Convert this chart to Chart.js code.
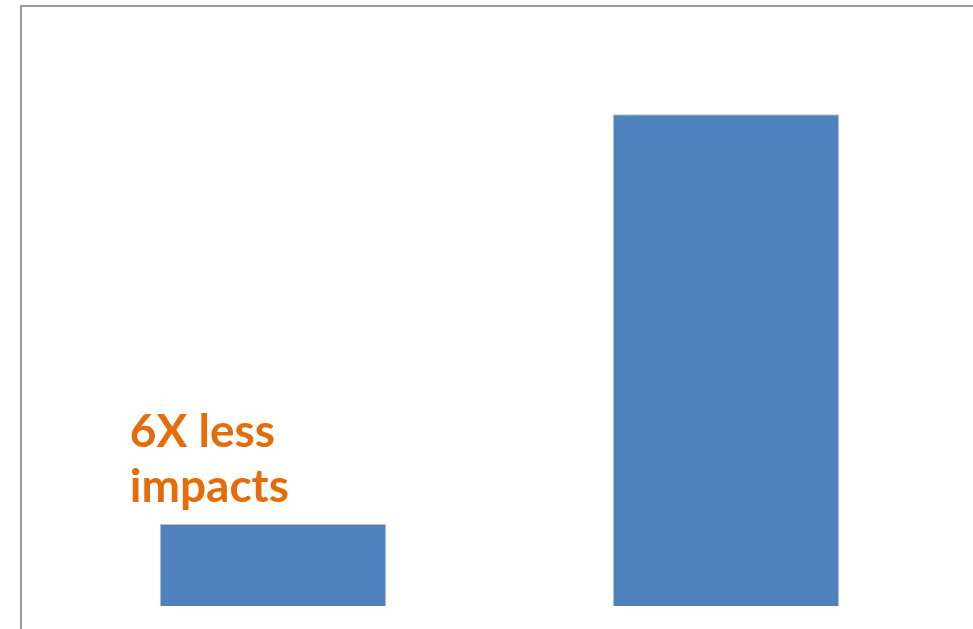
<html>
<head>
    <title>6X less impacts</title>
    <script src="https://cdn.jsdelivr.net/npm/chart.js@4/dist/chart.umd.min.js"></script>
    <style>
        body { margin: 0; background: #fff; }
    </style>
</head>
<body>
<canvas id="myChart" width="973" height="629"></canvas>

<script type="text/javascript">
var categories = ['A', 'B']
var impacts = [1, 6]
var noteLines = ['6X less', 'impacts']

// frame lines on left and top, plus the orange note above the small bar
var framePlugin = {
    id: 'frame',
    afterDatasetsDraw: function(chart) {
        var ctx = chart.ctx
        ctx.save()
        ctx.strokeStyle = '#9a9a9a'
        ctx.lineWidth = 2
        ctx.beginPath()
        ctx.moveTo(21, 629)
        ctx.lineTo(21, 6)
        ctx.lineTo(973, 6)
        ctx.stroke()

        var bar = chart.getDatasetMeta(0).data[0]
        ctx.fillStyle = '#E46C0A'
        ctx.font = 'bold 46px Lato'
        ctx.textBaseline = 'alphabetic'
        ctx.textAlign = 'left'
        var left = bar.x - bar.width / 2 - 30
        ctx.fillText(noteLines[0], left, bar.y - 77)
        ctx.fillText(noteLines[1], left, bar.y - 22)
        ctx.restore()
    }
}

var ctx = document.getElementById("myChart")
var chart = new Chart(ctx, {
    type: 'bar',
    data: {
        labels: categories,
        datasets: [{
            data: impacts,
            backgroundColor: '#4F81BD',
            borderColor: 'rgba(120,120,120,0.45)',
            borderWidth: 1,
            barPercentage: 0.5,
            categoryPercentage: 1.0
        }]
    },
    options: {
        responsive: false,
        animation: false,
        devicePixelRatio: 1,
        layout: { padding: { left: 46.5, right: 20.5, top: 6, bottom: 23 } },
        plugins: {
            legend: { display: false },
            tooltip: { enabled: false }
        },
        scales: {
            x: { display: false },
            y: { display: false, min: 0, max: 7.32 }
        }
    },
    plugins: [framePlugin]
})
</script>
</body>
</html>
